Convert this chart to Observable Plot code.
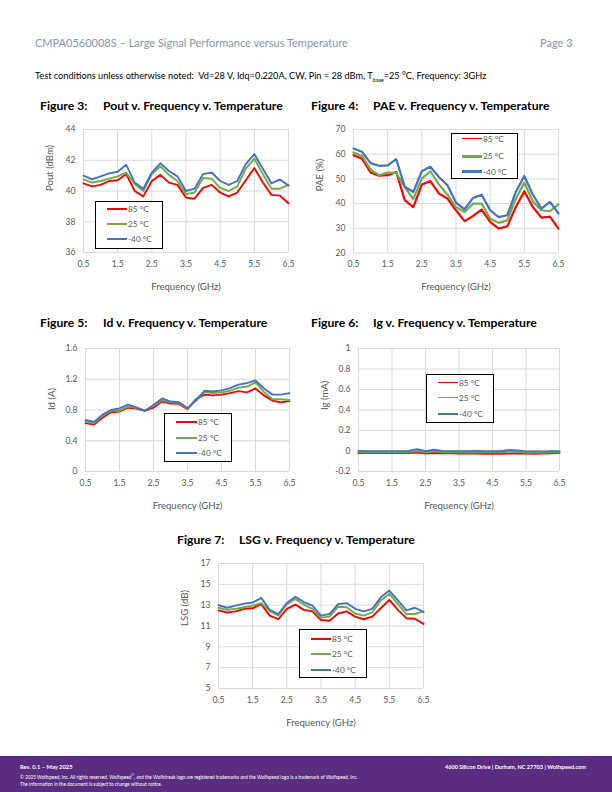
<!DOCTYPE html>
<html>
<head>
<meta charset="utf-8">
<script src="https://cdn.jsdelivr.net/npm/d3@7"></script>
<script src="https://cdn.jsdelivr.net/npm/@observablehq/plot@0.6"></script>
<style>
  html, body { margin: 0; padding: 0; background: #fff; }
  #page { position: relative; width: 612px; height: 792px; overflow: hidden; font-family: Lato, "Liberation Sans", sans-serif; }
  .abs { position: absolute; }
  .hdr { color: #8496b0; font-size: 11px; white-space: nowrap; }
  .cond { font-size: 9.2px; color: #000; white-space: nowrap; }
  .fig { font-weight: bold; font-size: 12.2px; color: #000; white-space: nowrap; }
  .legend { position: absolute; border: 1.3px solid #000; background: #fff; box-sizing: border-box; }
  .legrow { position: absolute; font-size: 8.3px; color: #595959; white-space: nowrap; line-height: 10px; }
  .legline { position: absolute; }
  .footer { position: absolute; left: 0; top: 756px; width: 612px; height: 36px; background: #5a2d81; color: #fff; }
  .ft { position: absolute; white-space: nowrap; color: #fff; }
</style>
</head>
<body>
<div id="page"></div>
<script>
// ---------------- data ----------------
const freq = [0.5,0.75,1.0,1.25,1.5,1.75,2.0,2.25,2.5,2.75,3.0,3.25,3.5,3.75,4.0,4.25,4.5,4.75,5.0,5.25,5.5,5.75,6.0,6.25,6.5];
const seriesNames = ["85 °C", "25 °C", "-40 °C"];
const seriesColors = ["#ff0000", "#70ad47", "#4472c4"];

const poutHot  = [40.5,40.3,40.4,40.65,40.7,41.1,40.0,39.65,40.65,41.05,40.55,40.4,39.57,39.5,40.2,40.4,39.9,39.65,39.9,40.7,41.5,40.55,39.75,39.7,39.2];
const poutRoom = [40.75,40.55,40.65,40.8,40.95,41.2,40.45,40.0,41.1,41.6,41.05,40.65,39.8,39.9,40.85,40.8,40.2,40.0,40.3,41.45,42.1,41.1,40.15,40.15,40.4];
const poutCold = [41.0,40.75,40.95,41.15,41.25,41.7,40.55,40.15,41.2,41.8,41.3,40.95,40.0,40.15,41.1,41.2,40.65,40.4,40.65,41.75,42.4,41.45,40.5,40.75,40.35];

const paeHot  = [59.6,58.2,52.6,51.3,51.5,52.8,41.4,38.6,47.7,49.1,44.1,42.0,37.3,32.9,35.0,37.6,32.6,29.9,30.8,38.6,45.0,38.6,34.3,34.7,29.9];
const paeRoom = [60.7,59.3,53.8,51.5,52.6,52.4,46.8,41.8,50.1,53.1,47.7,43.6,38.6,36.6,40.0,40.0,33.9,32.2,33.2,42.0,48.5,40.9,37.3,36.9,39.7];
const paeCold = [62.3,61.0,56.4,55.3,55.5,58.0,46.8,44.7,53.1,54.9,50.8,47.4,40.4,37.7,42.3,43.6,37.3,34.5,35.3,44.7,51.2,43.6,38.0,40.7,36.0];

const idHot  = [0.63,0.61,0.70,0.77,0.78,0.83,0.82,0.79,0.83,0.91,0.885,0.88,0.81,0.94,1.0,0.99,1.0,1.02,1.045,1.03,1.08,0.99,0.92,0.90,0.915];
const idRoom = [0.645,0.63,0.725,0.79,0.79,0.845,0.83,0.79,0.855,0.93,0.90,0.895,0.82,0.92,1.035,1.02,1.03,1.05,1.09,1.105,1.16,1.035,0.94,0.94,0.93];
const idCold = [0.67,0.645,0.74,0.80,0.82,0.87,0.835,0.79,0.865,0.95,0.91,0.90,0.825,0.93,1.05,1.04,1.055,1.085,1.13,1.15,1.185,1.08,1.0,1.0,1.02];

const igHot  = [-0.02,-0.02,-0.02,-0.02,-0.02,-0.02,-0.02,-0.015,-0.025,-0.02,-0.022,-0.022,-0.025,-0.025,-0.025,-0.028,-0.028,-0.028,-0.025,-0.025,-0.025,-0.028,-0.025,-0.022,-0.02];
const igRoom = [-0.01,-0.012,-0.012,-0.012,-0.012,-0.012,-0.01,0.0,-0.012,-0.002,-0.01,-0.012,-0.012,-0.012,-0.01,-0.012,-0.012,-0.012,-0.005,-0.008,-0.015,-0.015,-0.015,-0.012,-0.012];
const igCold = [0.0,-0.002,-0.002,-0.002,-0.002,-0.002,0.0,0.018,-0.002,0.012,0.0,-0.003,-0.003,-0.003,0.0,-0.002,-0.002,-0.002,0.01,0.005,-0.004,-0.004,-0.004,-0.002,-0.002];

const lsgHot  = [12.5,12.3,12.4,12.65,12.7,13.1,12.0,11.65,12.65,13.05,12.55,12.4,11.57,11.5,12.2,12.4,11.9,11.65,11.9,12.7,13.5,12.55,11.75,11.7,11.2];
const lsgRoom = [12.75,12.55,12.65,12.8,12.95,13.2,12.45,12.0,13.1,13.6,13.05,12.65,11.8,11.9,12.85,12.8,12.2,12.0,12.3,13.45,14.1,13.1,12.15,12.15,12.4];
const lsgCold = [13.0,12.75,12.95,13.15,13.25,13.7,12.55,12.15,13.2,13.8,13.3,12.95,12.0,12.15,13.1,13.2,12.65,12.4,12.65,13.75,14.4,13.45,12.5,12.75,12.35];

const xTicks = [0.5,1.5,2.5,3.5,4.5,5.5,6.5];
const poutTicks = [36,38,40,42,44];
const paeTicks = [20,30,40,50,60,70];
const idTicks = [0,0.4,0.8,1.2,1.6];
const igTicks = [-0.2,0,0.2,0.4,0.6,0.8,1];
const lsgTicks = [5,7,9,11,13,15,17];
const xLabel = "Frequency (GHz)";

// ---------------- helpers ----------------
const page = document.getElementById("page");
function el(tag, cls, css, html) {
  const e = document.createElement(tag);
  if (cls) e.className = cls;
  Object.assign(e.style, css || {});
  if (html != null) e.innerHTML = html;
  page.appendChild(e);
  return e;
}
function rows(a, b, c) {
  const out = [];
  [a, b, c].forEach((arr, i) => arr.forEach((v, j) => out.push({f: freq[j], v, s: seriesNames[i]})));
  return out;
}
function chart({left, top, plotW, plotH, yTicks, yLabel, yFmt, data, sw}) {
  const mL = 48, mR = 8, mT = 14, mB = 46;
  const p = Plot.plot({
    width: mL + plotW + mR,
    height: mT + plotH + mB,
    marginLeft: mL, marginRight: mR, marginTop: mT, marginBottom: mB,
    style: {fontFamily: "Lato, sans-serif", fontSize: "8.6px", color: "#595959", background: "transparent", overflow: "visible"},
    x: {domain: [0.5, 6.5]},
    y: {domain: [yTicks[0], yTicks[yTicks.length - 1]]},
    color: {domain: seriesNames, range: seriesColors},
    marks: [
      Plot.gridX(xTicks, {stroke: "#d9d9d9", strokeOpacity: 1, strokeWidth: 1}),
      Plot.gridY(yTicks, {stroke: "#d9d9d9", strokeOpacity: 1, strokeWidth: 1}),
      Plot.axisX(xTicks, {tickSize: 0, tickPadding: 8, tickFormat: d => d.toFixed(1), label: null}),
      Plot.axisY(yTicks, {tickSize: 0, tickPadding: 8, tickFormat: yFmt, label: null}),
      Plot.text([xLabel], {frameAnchor: "bottom", dy: 37, fontSize: 9.6, fill: "#595959"}),
      Plot.text([yLabel], {frameAnchor: "left", dx: -34, rotate: -90, fontSize: 9.6, fill: "#595959"}),
      Plot.line(data, {x: "f", y: "v", stroke: "s", z: "s", strokeWidth: sw || 1.9, strokeLinejoin: "round"})
    ]
  });
  const wrap = el("div", "abs", {left: (left - mL) + "px", top: (top - mT) + "px"});
  wrap.appendChild(p);
}
function legend({x0, y0, x1, y1, rowsY, lx0, lx1, widths}) {
  el("div", "legend", {left: x0 + "px", top: y0 + "px", width: (x1 - x0) + "px", height: (y1 - y0) + "px"});
  seriesNames.forEach((n, i) => {
    const w = widths ? widths[i] : 2;
    el("div", "legline", {left: lx0 + "px", top: (rowsY[i] - w / 2) + "px", width: (lx1 - lx0) + "px", height: w + "px", background: seriesColors[i]});
    el("div", "legrow", {left: (lx1 + 1) + "px", top: (rowsY[i] - 5) + "px"}, n);
  });
}

// ---------------- header ----------------
el("div", "abs hdr", {left: "35px", top: "36px"}, "CMPA0560008S – Large Signal Performance versus Temperature");
el("div", "abs hdr", {left: "540px", top: "36px"}, "Page 3");
el("div", "abs cond", {left: "35px", top: "70px"},
  "Test conditions unless otherwise noted:&nbsp; Vd=28 V, Idq=0.220A, CW, Pin = 28 dBm, T<sub style='font-size:5.5px'>base</sub>=25 °C, Frequency: 3GHz");

// ---------------- figure titles ----------------
function title(x1, x2, y, num, txt) {
  el("div", "abs fig", {left: x1 + "px", top: y + "px"}, "Figure " + num + ":");
  el("div", "abs fig", {left: x2 + "px", top: y + "px"}, txt);
}
title(40, 103, 98, 3, "Pout v. Frequency v. Temperature");
title(311, 373, 98, 4, "PAE v. Frequency v. Temperature");
title(40, 103, 315, 5, "Id v. Frequency v. Temperature");
title(311, 373, 315, 6, "Ig v. Frequency v. Temperature");
title(177, 239, 532, 7, "LSG v. Frequency v. Temperature");

// ---------------- charts ----------------
chart({left: 83, top: 129, plotW: 205, plotH: 123, yTicks: poutTicks, yLabel: "Pout (dBm)", yFmt: d => String(d), data: rows(poutHot, poutRoom, poutCold)});
chart({left: 353, top: 129, plotW: 205, plotH: 123.5, yTicks: paeTicks, yLabel: "PAE (%)", yFmt: d => String(d), data: rows(paeHot, paeRoom, paeCold), sw: 2.2});
chart({left: 85, top: 348, plotW: 204, plotH: 123, yTicks: idTicks, yLabel: "Id (A)", yFmt: d => String(d), data: rows(idHot, idRoom, idCold)});
chart({left: 358, top: 348, plotW: 201, plotH: 123, yTicks: igTicks, yLabel: "Ig (mA)", yFmt: d => String(d), data: rows(igHot, igRoom, igCold)});
chart({left: 218, top: 563, plotW: 205, plotH: 125, yTicks: lsgTicks, yLabel: "LSG (dB)", yFmt: d => String(d), data: rows(lsgHot, lsgRoom, lsgCold)});

// ---------------- legends ----------------
legend({x0: 95, y0: 201, x1: 163, y1: 249, rowsY: [208.5, 223.5, 239], lx0: 107, lx1: 127});
legend({x0: 451, y0: 133, x1: 518, y1: 179, rowsY: [138.5, 156, 171.5], lx0: 462, lx1: 482, widths: [1.6, 3, 3]});
legend({x0: 164, y0: 413, x1: 232, y1: 462, rowsY: [421.5, 437.5, 453], lx0: 176, lx1: 197});
legend({x0: 426, y0: 374, x1: 494, y1: 423, rowsY: [382.5, 397.5, 414], lx0: 438, lx1: 458, widths: [1.5, 1.5, 1.5]});
legend({x0: 299, y0: 629, x1: 367, y1: 678, rowsY: [638.5, 654, 670], lx0: 311, lx1: 331});

// ---------------- footer ----------------
const foot = el("div", "footer", {});
function ft(css, html) {
  const e = document.createElement("div");
  e.className = "ft";
  Object.assign(e.style, css);
  e.innerHTML = html;
  foot.appendChild(e);
}
ft({left: "20px", top: "7px", fontSize: "5.8px", fontWeight: "bold"}, "Rev. 0.1 – May 2025");
ft({right: "26px", top: "7px", fontSize: "5.6px", fontWeight: "bold"}, "4600 Silicon Drive | Durham, NC 27703 | Wolfspeed.com");
ft({left: "20px", top: "17px", fontSize: "4.7px"}, "© 2025 Wolfspeed, Inc. All rights reserved. Wolfspeed<sup style='font-size:3px'>®</sup>, and the Wolfstreak logo are registered trademarks and the Wolfspeed logo is a trademark of Wolfspeed, Inc.");
ft({left: "20px", top: "25px", fontSize: "4.7px"}, "The information in the document is subject to change without notice.");
</script>
</body>
</html>
